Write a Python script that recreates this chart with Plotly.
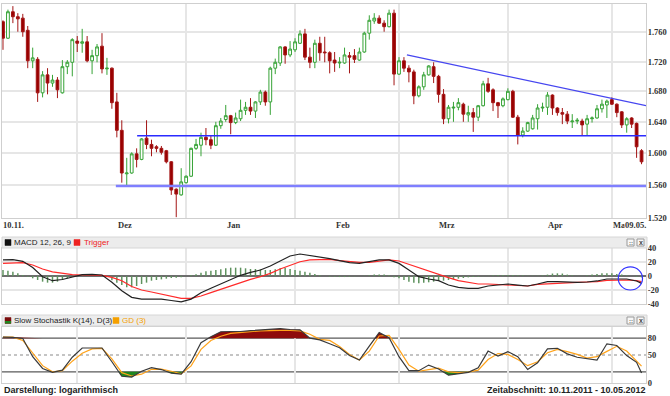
import math
import pandas as pd
import plotly.graph_objects as go

W, H = 670, 396

# ---------------- data ----------------
dates = pd.bdate_range("2011-11-10", "2012-05-09")   # 130 trading days
N = len(dates)
idx = list(range(N))

open_ = [1.775, 1.752, 1.789, 1.782, 1.780, 1.763, 1.721, 1.723, 1.678, 1.702,
         1.691, 1.695, 1.678, 1.713, 1.719, 1.748, 1.745, 1.747, 1.721, 1.728,
         1.741, 1.710, 1.711, 1.666, 1.629, 1.574, 1.575, 1.599, 1.592, 1.619,
         1.611, 1.608, 1.606, 1.603, 1.589, 1.555, 1.548, 1.563, 1.571, 1.606,
         1.610, 1.620, 1.617, 1.610, 1.635, 1.643, 1.648, 1.639, 1.644, 1.655,
         1.659, 1.654, 1.666, 1.679, 1.666, 1.711, 1.718, 1.740, 1.729, 1.736,
         1.745, 1.758, 1.726, 1.719, 1.745, 1.733, 1.732, 1.722, 1.718, 1.718,
         1.728, 1.728, 1.722, 1.733, 1.759, 1.776, 1.780, 1.773, 1.768, 1.787,
         1.703, 1.721, 1.711, 1.706, 1.674, 1.686, 1.702, 1.713, 1.700, 1.676,
         1.644, 1.658, 1.659, 1.663, 1.649, 1.652, 1.646, 1.661, 1.690, 1.682,
         1.665, 1.661, 1.669, 1.680, 1.646, 1.623, 1.628, 1.631, 1.644, 1.658,
         1.659, 1.675, 1.658, 1.652, 1.650, 1.640, 1.641, 1.641, 1.637, 1.644,
         1.645, 1.657, 1.662, 1.669, 1.663, 1.653, 1.636, 1.645, 1.638, 1.603]
high = [1.777, 1.792, 1.797, 1.787, 1.786, 1.769, 1.739, 1.726, 1.707, 1.711,
        1.702, 1.699, 1.722, 1.722, 1.752, 1.755, 1.765, 1.755, 1.736, 1.744,
        1.759, 1.725, 1.712, 1.678, 1.642, 1.594, 1.601, 1.606, 1.619, 1.642,
        1.617, 1.610, 1.609, 1.604, 1.590, 1.556, 1.581, 1.572, 1.607, 1.618,
        1.626, 1.632, 1.623, 1.640, 1.645, 1.662, 1.649, 1.652, 1.669, 1.666,
        1.671, 1.667, 1.682, 1.681, 1.713, 1.724, 1.741, 1.741, 1.748, 1.752,
        1.763, 1.765, 1.739, 1.750, 1.754, 1.754, 1.734, 1.733, 1.726, 1.739,
        1.733, 1.737, 1.739, 1.761, 1.784, 1.787, 1.784, 1.777, 1.792, 1.792,
        1.726, 1.726, 1.715, 1.709, 1.688, 1.706, 1.715, 1.719, 1.702, 1.683,
        1.662, 1.666, 1.671, 1.665, 1.661, 1.658, 1.662, 1.694, 1.698, 1.684,
        1.666, 1.672, 1.684, 1.682, 1.649, 1.633, 1.640, 1.649, 1.663, 1.665,
        1.679, 1.676, 1.659, 1.658, 1.654, 1.650, 1.645, 1.644, 1.649, 1.647,
        1.662, 1.669, 1.669, 1.672, 1.664, 1.654, 1.646, 1.646, 1.639, 1.605]
low = [1.736, 1.751, 1.773, 1.761, 1.754, 1.711, 1.711, 1.666, 1.672, 1.676,
       1.686, 1.671, 1.677, 1.703, 1.700, 1.733, 1.732, 1.719, 1.703, 1.719,
       1.704, 1.702, 1.657, 1.620, 1.563, 1.560, 1.574, 1.582, 1.591, 1.605,
       1.596, 1.601, 1.598, 1.587, 1.548, 1.521, 1.547, 1.562, 1.570, 1.604,
       1.596, 1.610, 1.605, 1.609, 1.631, 1.640, 1.624, 1.637, 1.641, 1.649,
       1.649, 1.645, 1.662, 1.661, 1.649, 1.703, 1.714, 1.717, 1.726, 1.733,
       1.744, 1.722, 1.711, 1.711, 1.721, 1.719, 1.704, 1.706, 1.711, 1.717,
       1.704, 1.718, 1.721, 1.732, 1.750, 1.772, 1.772, 1.761, 1.767, 1.688,
       1.702, 1.706, 1.692, 1.663, 1.672, 1.682, 1.701, 1.691, 1.665, 1.637,
       1.638, 1.640, 1.655, 1.640, 1.640, 1.627, 1.641, 1.660, 1.678, 1.654,
       1.645, 1.659, 1.668, 1.645, 1.611, 1.620, 1.627, 1.630, 1.630, 1.653,
       1.649, 1.649, 1.648, 1.637, 1.637, 1.632, 1.637, 1.622, 1.623, 1.639,
       1.644, 1.652, 1.645, 1.662, 1.646, 1.632, 1.626, 1.632, 1.594, 1.586]
close = [1.752, 1.789, 1.782, 1.779, 1.761, 1.721, 1.725, 1.678, 1.702, 1.691,
         1.695, 1.682, 1.713, 1.719, 1.750, 1.745, 1.747, 1.721, 1.728, 1.740,
         1.710, 1.711, 1.665, 1.629, 1.575, 1.575, 1.599, 1.592, 1.618, 1.611,
         1.606, 1.606, 1.601, 1.589, 1.554, 1.549, 1.564, 1.571, 1.606, 1.611,
         1.620, 1.617, 1.610, 1.635, 1.641, 1.648, 1.639, 1.645, 1.655, 1.659,
         1.654, 1.666, 1.679, 1.666, 1.711, 1.719, 1.740, 1.729, 1.737, 1.747,
         1.758, 1.726, 1.719, 1.745, 1.732, 1.732, 1.721, 1.718, 1.719, 1.729,
         1.726, 1.723, 1.733, 1.759, 1.777, 1.780, 1.773, 1.768, 1.787, 1.703,
         1.721, 1.711, 1.706, 1.674, 1.686, 1.702, 1.714, 1.700, 1.676, 1.644,
         1.659, 1.659, 1.665, 1.650, 1.652, 1.646, 1.661, 1.690, 1.680, 1.665,
         1.661, 1.670, 1.680, 1.646, 1.623, 1.628, 1.639, 1.645, 1.658, 1.659,
         1.675, 1.658, 1.652, 1.650, 1.641, 1.641, 1.642, 1.636, 1.644, 1.645,
         1.657, 1.663, 1.667, 1.663, 1.652, 1.636, 1.644, 1.637, 1.608, 1.589]

# drawn trend lines (start index, end index, start price, end price)
support_hi = [27.1, 129.9, 1.622, 1.622]
support_lo = [22.8, 129.9, 1.559, 1.559]
resistance = [81.6, 129.9, 1.729, 1.661]

price_ticks = [1.52, 1.56, 1.60, 1.64, 1.68, 1.72, 1.76, 1.80]
price_tick_text = ["1.520", "1.560", "1.600", "1.640", "1.680", "1.720", "1.760", "1.800"]

# indicator samples (every second trading day + last)
ind_x = list(range(0, 129, 2)) + [129]
macd = [23, 23.5, 21, 12, -1, -6.7, -5, -1, 1.9, 2.4,
        1.4, -9, -21, -30.5, -33, -33, -33, -35, -37, -33,
        -24, -17.6, -11.4, -4.8, 1, 5.2, 8.6, 14.3, 22, 28.6,
        31.4, 29.5, 26.7, 24.8, 22, 19, 18, 20, 22.9, 22.9,
        18, 8.6, -1, -4.3, -6.7, -12.9, -16.2, -17.6, -17.6, -14.3,
        -12.9, -11.4, -12.9, -14.3, -11.4, -8, -8, -8.6, -9, -8.6,
        -7.1, -4.3, -3.8, -4.3, -7.1, -10.5]
trigger = [18, 19, 19, 15.7, 10, 6, 3.8, 2, 1.4, 1.4,
           1, -2, -6.7, -15, -20, -22.9, -25.7, -28.6, -32, -32,
           -28.6, -23.8, -19, -14.3, -9.5, -4.8, -1, 3.8, 10, 15.7,
           20.4, 22.9, 23.8, 23.8, 22, 20.4, 19.5, 19.5, 21, 22.9,
           21.4, 16.7, 11, 6.2, 2.4, -2.4, -6.7, -9.5, -11.4, -11.4,
           -11.9, -12.9, -13.8, -14.3, -11.9, -11, -10.5, -9.5, -9, -8.6,
           -8, -6.2, -5.7, -5.7, -6.7, -8]
macd_hist = [8.6, 7.6, 6.2, 3.8, 1.4, -1, -3.3, -5.7, -8.1, -9.5,
             -9.5, -8.1, -5.7, -3.3, -1, 0.5, 1, 1, 1, 1,
             0.5, 0, -6, -9.5, -12.9, -16.2, -16.2, -14.3, -11.4, -9.5,
             -6.7, -5.7, -4.8, -3.8, -2.9, -2.4, -1.9, 0, 1.4, 2.4,
             4.8, 6.7, 7.6, 8.6, 9.5, 11, 11.9, 11.9, 11.9, 11,
             10, 10, 9.5, 8.6, 8.6, 9.5, 11, 11.9, 10, 8.6,
             7.6, 6.2, 4.8, 2.9, 1.4, 0, -1, -1, -1.5, -1.5,
             -1, -0.5, 0, 0.5, 1, 2, 2, 2, 1, -1.9,
             -3.3, -5.7, -8.1, -9.5, -10.5, -9.5, -9, -8.1, -7.1, -6.7,
             -5.7, -4.8, -3.8, -2.9, -1.9, -1.4, -1, -0.5, 0.5, 1,
             1.5, 1.5, 1.5, 1.5, 1, 1, 0.5, 0.5, 0.5, 1,
             2, 3.5, 3.8, 3.5, 2, 1, 0.5, 0.5, 1, 2,
             3, 3.8, 3.8, 3.8, 3, 2, 1, 0, -1, -2]
stoch_k = [82, 81.5, 79.5, 47, 26, 19, 23, 46, 62.5, 63,
           62.5, 38, 12, 10.5, 21, 27.5, 24, 17.5, 16, 38,
           72, 82.5, 91.5, 92, 92, 93.5, 95, 96, 97, 95.5,
           95, 80, 77, 70, 63, 49, 41, 66, 90, 81,
           47, 22, 22, 32, 25, 14, 16, 19, 27, 57,
           48, 56, 47, 24, 36, 61, 62, 52, 46, 44,
           41, 70, 67, 49, 37, 18]
stoch_d = [82, 82, 76, 54, 31, 20, 22, 39, 53, 61,
           62, 43, 18.5, 12.5, 15.7, 24.5, 24.7, 21, 16.5, 30.5,
           60, 76, 83.5, 88.5, 90.5, 91.6, 93, 94, 94, 94,
           93, 87, 78, 76, 65, 51, 41, 57, 84, 85,
           60, 32, 21, 24, 26.5, 20, 18.5, 19.5, 23, 42,
           52.5, 51, 42, 31, 38, 54, 60, 56, 51, 44.5,
           47, 56.5, 65.5, 57, 39.4, 30]

assert len(open_) == len(high) == len(low) == len(close) == N == 130
assert len(macd) == len(trigger) == len(stoch_k) == len(stoch_d) == len(ind_x)
assert len(macd_hist) == N

month_starts = [i for i in range(1, N) if dates[i].month != dates[i - 1].month]

# ---------------- layout helpers ----------------
def px_x(x):
    return x / W

def px_y(y):
    return 1 - y / H

XL, XR = 2, 646
XDOM = [px_x(XL), px_x(XR)]
XRANGE = [-0.2, 129.9]

SANS = "Liberation Sans, Arial, sans-serif"
SERIF = "Liberation Serif, Times New Roman, serif"
GRID = "#e6e6e6"
FRAME = "#cfcfcf"

fig = go.Figure()

# ---------------- main candlestick chart ----------------
fig.add_trace(go.Candlestick(
    x=idx, open=open_, high=high, low=low, close=close,
    increasing=dict(line=dict(color="#36a336", width=1), fillcolor="#ffffff"),
    decreasing=dict(line=dict(color="#a31515", width=1), fillcolor="#990000"),
    whiskerwidth=0, hoverinfo="skip", showlegend=False,
    xaxis="x", yaxis="y"))

for seg, col, wd in [(support_lo, "#7f7fff", 2.5), (support_hi, "#2b2bff", 1.5),
                     (resistance, "#4646f0", 1.2)]:
    fig.add_trace(go.Scatter(x=[seg[0], seg[1]], y=[seg[2], seg[3]], mode="lines",
                             line=dict(color=col, width=wd), hoverinfo="skip",
                             showlegend=False, xaxis="x", yaxis="y"))

# ---------------- MACD ----------------
fig.add_trace(go.Bar(x=idx, y=macd_hist, width=0.3, marker=dict(color="#5e925e", line=dict(width=0)),
                     hoverinfo="skip", showlegend=False, xaxis="x2", yaxis="y2"))
fig.add_trace(go.Scatter(x=ind_x, y=trigger, mode="lines", line=dict(color="#ff2a2a", width=1.2),
                         hoverinfo="skip", showlegend=False, xaxis="x2", yaxis="y2"))
fig.add_trace(go.Scatter(x=ind_x, y=macd, mode="lines", line=dict(color="#222222", width=1.2),
                         hoverinfo="skip", showlegend=False, xaxis="x2", yaxis="y2"))

# ---------------- Stochastic ----------------
def band(xs, ys, thr, above):
    bx, by = [], []
    for k in range(len(xs)):
        if k > 0:
            y0, y1 = ys[k - 1], ys[k]
            if (y0 - thr) * (y1 - thr) < 0:
                t = (thr - y0) / (y1 - y0)
                bx.append(xs[k - 1] + t * (xs[k] - xs[k - 1]))
                by.append(thr)
        bx.append(xs[k])
        by.append(max(ys[k], thr) if above else min(ys[k], thr))
    return bx + bx[::-1], by + [thr] * len(bx)

rx, ry = band(ind_x, stoch_k, 80, True)
gx, gy = band(ind_x, stoch_k, 20, False)
fig.add_trace(go.Scatter(x=rx, y=ry, mode="lines", fill="toself", fillcolor="#8e0b0b",
                         line=dict(width=0), hoverinfo="skip", showlegend=False,
                         xaxis="x3", yaxis="y3"))
fig.add_trace(go.Scatter(x=gx, y=gy, mode="lines", fill="toself", fillcolor="#1f861f",
                         line=dict(width=0), hoverinfo="skip", showlegend=False,
                         xaxis="x3", yaxis="y3"))
fig.add_trace(go.Scatter(x=ind_x, y=stoch_d, mode="lines", line=dict(color="#ffa31a", width=1.2),
                         hoverinfo="skip", showlegend=False, xaxis="x3", yaxis="y3"))
fig.add_trace(go.Scatter(x=ind_x, y=stoch_k, mode="lines", line=dict(color="#3a3a3a", width=1.2),
                         hoverinfo="skip", showlegend=False, xaxis="x3", yaxis="y3"))

# ---------------- axes ----------------
xcommon = dict(domain=XDOM, range=XRANGE, tickmode="array", tickvals=month_starts,
               ticktext=[""] * len(month_starts), showticklabels=False, ticks="",
               showgrid=True, gridcolor=GRID, gridwidth=2, zeroline=False, automargin=False,
               showline=True, linecolor=FRAME, linewidth=1, mirror=True, fixedrange=True)
tickfont = dict(family=SERIF, size=8.5, color="#333333")
ycommon = dict(side="right", tickmode="array", tickfont=tickfont, ticks="", automargin=False,
               ticklabelstandoff=-1, showline=True, linecolor=FRAME, mirror=True, fixedrange=True)

fig.update_layout(
    width=W, height=H, margin=dict(l=0, r=0, t=0, b=0, autoexpand=False),
    paper_bgcolor="white", plot_bgcolor="white", showlegend=False, hovermode=False,
    barmode="overlay", boxgap=0.2,
    xaxis=dict(**xcommon, anchor="y", rangeslider=dict(visible=False)),
    yaxis=dict(**ycommon, type="log", domain=[px_y(218), px_y(4)],
               range=[math.log10(1.52), math.log10(1.80)], anchor="x",
               tickvals=price_ticks, ticktext=["<b>%s</b>" % t for t in price_tick_text],
               showgrid=True, gridcolor=GRID, gridwidth=2, zeroline=False),
    xaxis2=dict(**xcommon, anchor="y2"),
    yaxis2=dict(**ycommon, domain=[px_y(304), px_y(248)], range=[-40, 40], anchor="x2",
                tickvals=[-40, -20, 0, 20, 40],
                ticktext=["<b>-40</b>", "<b>-20</b>", "<b>0</b>", "<b>20</b>", "<b>40</b>"],
                showgrid=True, gridcolor=GRID, gridwidth=1.5,
                zeroline=True, zerolinecolor="#6e6e6e", zerolinewidth=1.5),
    xaxis3=dict(**xcommon, anchor="y3"),
    yaxis3=dict(**ycommon, domain=[px_y(383), px_y(327)], range=[0, 100], anchor="x3",
                tickvals=[0, 50, 80], ticktext=["<b>0</b>", "<b>50</b>", "<b>80</b>"],
                showgrid=False, zeroline=False),
)

shapes = []
# stochastic reference lines
for lvl, dash, col in [(80, "solid", "#5a5a5a"), (20, "solid", "#5a5a5a"), (50, "dot", "#8a8a8a")]:
    shapes.append(dict(type="line", xref="x3 domain", yref="y3", x0=0, x1=1, y0=lvl, y1=lvl,
                       line=dict(color=col, width=1.2, dash=dash), layer="below"))

# panel header bars
for y0, y1 in [(237, 248), (315, 326)]:
    shapes.append(dict(type="rect", xref="paper", yref="paper",
                       x0=px_x(XL), x1=px_x(XR + 1), y0=px_y(y1), y1=px_y(y0),
                       fillcolor="#ececec", line=dict(color="#d6d6d6", width=1), layer="above"))
    for bx in (627, 637):
        shapes.append(dict(type="rect", xref="paper", yref="paper",
                           x0=px_x(bx), x1=px_x(bx + 7), y0=px_y(y0 + 9), y1=px_y(y0 + 2),
                           fillcolor="#f7f7f7", line=dict(color="#9a9a9a", width=1), layer="above"))

# legend squares
def square(x, y, col):
    return dict(type="rect", xref="paper", yref="paper", x0=px_x(x), x1=px_x(x + 6),
                y0=px_y(y + 6), y1=px_y(y), fillcolor=col, line=dict(color=col, width=0.5),
                layer="above")

shapes.append(square(5, 239.5, "#111111"))
shapes.append(square(74, 239.5, "#ee2222"))
shapes.append(square(5, 317.5, "#7a0c0c"))
shapes.append(dict(type="rect", xref="paper", yref="paper", x0=px_x(5), x1=px_x(11),
                   y0=px_y(323.5), y1=px_y(321), fillcolor="#1f861f", line=dict(width=0),
                   layer="above"))
shapes.append(square(113, 317.5, "#f5a000"))

# highlight ellipse on MACD
shapes.append(dict(type="circle", xref="x2", yref="y2", x0=124.3, x1=129.2, y0=-20, y1=12.9,
                   line=dict(color="#3333ff", width=1.2)))

fig.update_layout(shapes=shapes)

ann = []
def text(x, y, s, anchor="left", size=8, color="#222222", family=SANS, bg=None):
    d = dict(xref="paper", yref="paper", x=px_x(x), y=px_y(y), text=s, showarrow=False,
             xanchor=anchor, yanchor="middle", font=dict(family=family, size=size, color=color),
             borderpad=0)
    if bg:
        d["bgcolor"] = bg
    ann.append(d)

# x-axis labels
text(2, 224.5, "<b>10.11.</b>", size=8.5, family=SERIF, color="#333333")
for i, name in [(25, "Dez"), (47, "Jan"), (69, "Feb"), (90, "Mrz"), (112, "Apr")]:
    ann.append(dict(xref="x", yref="paper", x=i - 0.4, y=px_y(224.5), text="<b>%s</b>" % name,
                    showarrow=False, xanchor="center", yanchor="middle",
                    font=dict(family=SERIF, size=8.5, color="#333333")))
text(612, 224.5, "<b>Mai</b>", size=8.5, family=SERIF, color="#333333")
text(647, 224.5, "<b>09.05.</b>", anchor="right", size=8.5, family=SERIF, color="#333333", bg="white")

# panel headers
text(13, 242.5, "MACD 12, 26, 9", size=8)
text(83, 242.5, "Trigger", size=8, color="#ee2222")
text(13, 320.5, "Slow Stochastik K(14), D(3)", size=8)
text(121, 320.5, "GD (3)", size=8, color="#f5a000")
for y in (242.5, 320.5):
    text(630.5, y, "<b>::</b>", anchor="center", size=6, color="#444444")
    text(640.5, y, "<b>x</b>", anchor="center", size=7, color="#444444")

# footer
text(3, 390, "<b>Darstellung: logarithmisch</b>", size=9)
text(647, 390, "<b>Zeitabschnitt: 10.11.2011 - 10.05.2012</b>", anchor="right", size=9)

fig.update_layout(annotations=ann)
fig.write_html("out.html", config={"displayModeBar": False, "staticPlot": True},
               post_script="document.body.style.margin='0';document.body.style.overflow='hidden';")
